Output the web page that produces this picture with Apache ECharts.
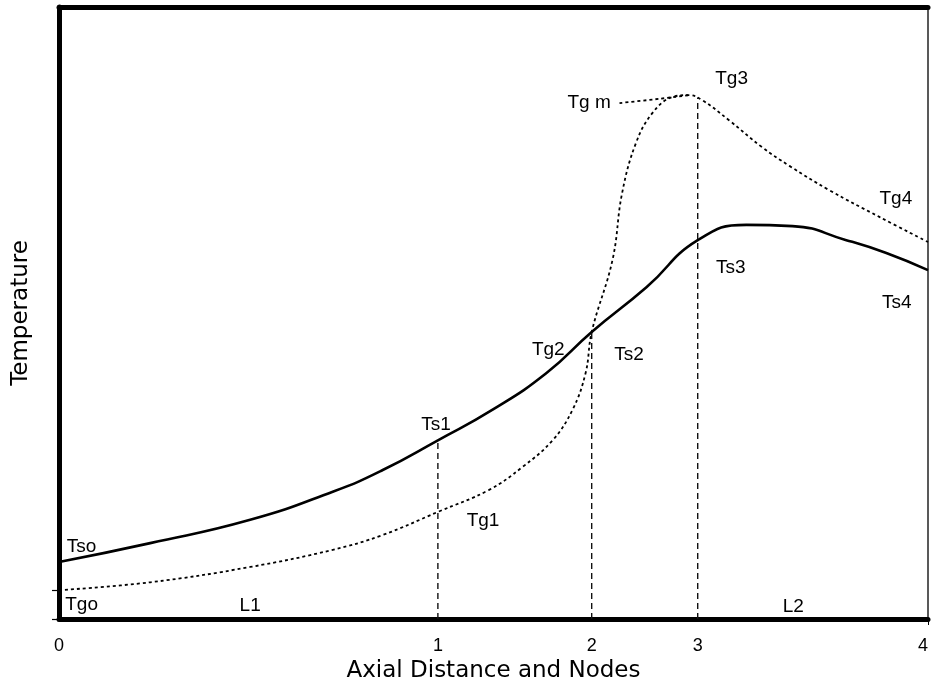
<!DOCTYPE html>
<html>
<head>
<meta charset="utf-8">
<script src="https://cdn.jsdelivr.net/npm/echarts@6/dist/echarts.min.js"></script>
<style>
  html, body { margin: 0; padding: 0; background: #fff; }
  #chart { width: 931px; height: 689px; }
</style>
</head>
<body>
<div id="chart"></div>
<script>
// axial distance (0-100) and temperature (0-100)
var tsX = [0, 10.5, 22.0, 31.5, 37.2, 43.6, 49.9, 56.1, 61.3, 67.6, 73.5, 79.1, 84.4, 90.6, 95.2, 100];
var tsY = [9.3, 12.4, 16.2, 20.8, 24.3, 29.2, 34.2, 40.2, 46.9, 54.2, 61.9, 64.4, 64.2, 61.9, 59.8, 57.0];

var tgX = [0, 10.5, 22.0, 31.5, 37.2, 43.6, 49.5, 53.3, 56.8, 59.1, 60.6, 61.3, 63.7, 64.8, 66.4, 68.3, 70.6, 72.5, 74.0, 77.1, 80.9, 84.1, 88.6, 94.4, 100];
var tgY = [4.7, 6.0, 8.5, 11.3, 13.7, 17.5, 21.1, 24.8, 29.2, 34.2, 40.2, 46.9, 58.7, 69.6, 77.8, 82.7, 85.3, 85.6, 84.8, 81.5, 77.1, 74.0, 70.1, 65.7, 61.6];

// short dotted piece out to the "Tg m" label
var tgmX = [64.5, 69.1, 72.5];
var tgmY = [84.3, 85.0, 85.6];

// nodes on the axis and the height of each dashed drop line
var nodeX = [0, 43.6, 61.3, 73.5, 100];
var nodeNames = ['0', '1', '2', '3', '4'];
var dropX = [43.6, 61.3, 73.5];
var dropTop = [29.2, 46.9, 85.2];

var yTicks = [0, 4.7];

var noteText = ['Tso', 'Tgo', 'L1', 'Ts1', 'Tg1', 'Tg2', 'Ts2', 'Tg m', 'Tg3', 'Tg4', 'Ts3', 'Ts4', 'L2'];
var noteX = [2.6, 2.6, 22.0, 43.4, 48.8, 56.3, 65.6, 61.0, 77.4, 96.3, 77.3, 96.4, 84.5];
var noteY = [11.8, 2.3, 2.1, 31.8, 16.1, 44.0, 43.1, 84.4, 88.2, 68.6, 57.4, 51.6, 2.0];

function pairs(xs, ys) {
    return xs.map(function (x, i) { return [x, ys[i]]; });
}

var series = [
    {
        name: 'Ts',
        type: 'line',
        data: pairs(tsX, tsY),
        smooth: 0.5,
        showSymbol: false,
        lineStyle: { color: '#000', width: 2.6 }
    },
    {
        name: 'Tg',
        type: 'line',
        data: pairs(tgX, tgY),
        smooth: 0.4,
        showSymbol: false,
        lineStyle: { color: '#000', width: 1.8, type: [3, 3] }
    },
    {
        name: 'Tgm',
        type: 'line',
        data: pairs(tgmX, tgmY),
        smooth: 0.3,
        showSymbol: false,
        lineStyle: { color: '#000', width: 1.8, type: [3, 3] }
    }
];

dropX.forEach(function (x, i) {
    series.push({
        name: 'node' + (i + 1),
        type: 'line',
        data: [[x, 0], [x, dropTop[i]]],
        showSymbol: false,
        lineStyle: { color: '#111', width: 1.4, type: [6, 4] }
    });
});

series.push({
    name: 'notes',
    type: 'scatter',
    symbolSize: 0,
    itemStyle: { opacity: 1 },
    data: noteText.map(function (t, i) { return { name: t, value: [noteX[i], noteY[i]] }; }),
    label: {
        show: true,
        position: 'inside',
        formatter: '{b}',
        color: '#000',
        fontFamily: 'Liberation Sans, Arial, sans-serif',
        fontSize: 19
    }
});

var option = {
    animation: false,
    backgroundColor: '#fff',
    grid: { left: 59, right: 2, top: 7, bottom: 70 },
    xAxis: [
        {
            type: 'value',
            min: 0,
            max: 100,
            name: 'Axial Distance and Nodes',
            nameLocation: 'middle',
            nameGap: 38,
            nameTextStyle: { color: '#000', fontSize: 23, fontFamily: 'DejaVu Sans, sans-serif' },
            splitLine: { show: false },
            axisLine: { onZero: false, lineStyle: { color: '#000', width: 5 } },
            axisTick: { show: true, customValues: [100], length: 6, lineStyle: { color: '#000', width: 1 } },
            axisLabel: {
                customValues: nodeX,
                margin: 18,
                alignMaxLabel: 'right',
                color: '#000',
                fontSize: 18,
                fontFamily: 'Liberation Sans, Arial, sans-serif',
                formatter: function (v) {
                    var i = nodeX.indexOf(v);
                    return i >= 0 ? nodeNames[i] : '';
                }
            }
        },
        {
            type: 'value',
            position: 'top',
            min: 0,
            max: 100,
            splitLine: { show: false },
            axisLine: { show: true, onZero: false, lineStyle: { color: '#000', width: 5 } },
            axisTick: { show: false },
            axisLabel: { show: false }
        }
    ],
    yAxis: [
        {
            type: 'value',
            min: 0,
            max: 100,
            name: 'Temperature',
            nameLocation: 'middle',
            nameGap: 26,
            nameRotate: 90,
            nameTextStyle: { color: '#000', fontSize: 23, fontFamily: 'DejaVu Sans, sans-serif' },
            splitLine: { show: false },
            axisLine: { show: true, onZero: false, lineStyle: { color: '#000', width: 5 } },
            axisTick: { show: true, customValues: yTicks, length: 7, lineStyle: { color: '#000', width: 1.2 } },
            axisLabel: { show: false }
        },
        {
            type: 'value',
            position: 'right',
            min: 0,
            max: 100,
            splitLine: { show: false },
            axisLine: { show: true, onZero: false, lineStyle: { color: '#222', width: 1.5 } },
            axisTick: { show: false },
            axisLabel: { show: false }
        }
    ],
    series: series
};

var myChart = echarts.init(document.getElementById('chart'));
myChart.setOption(option);
</script>
</body>
</html>
